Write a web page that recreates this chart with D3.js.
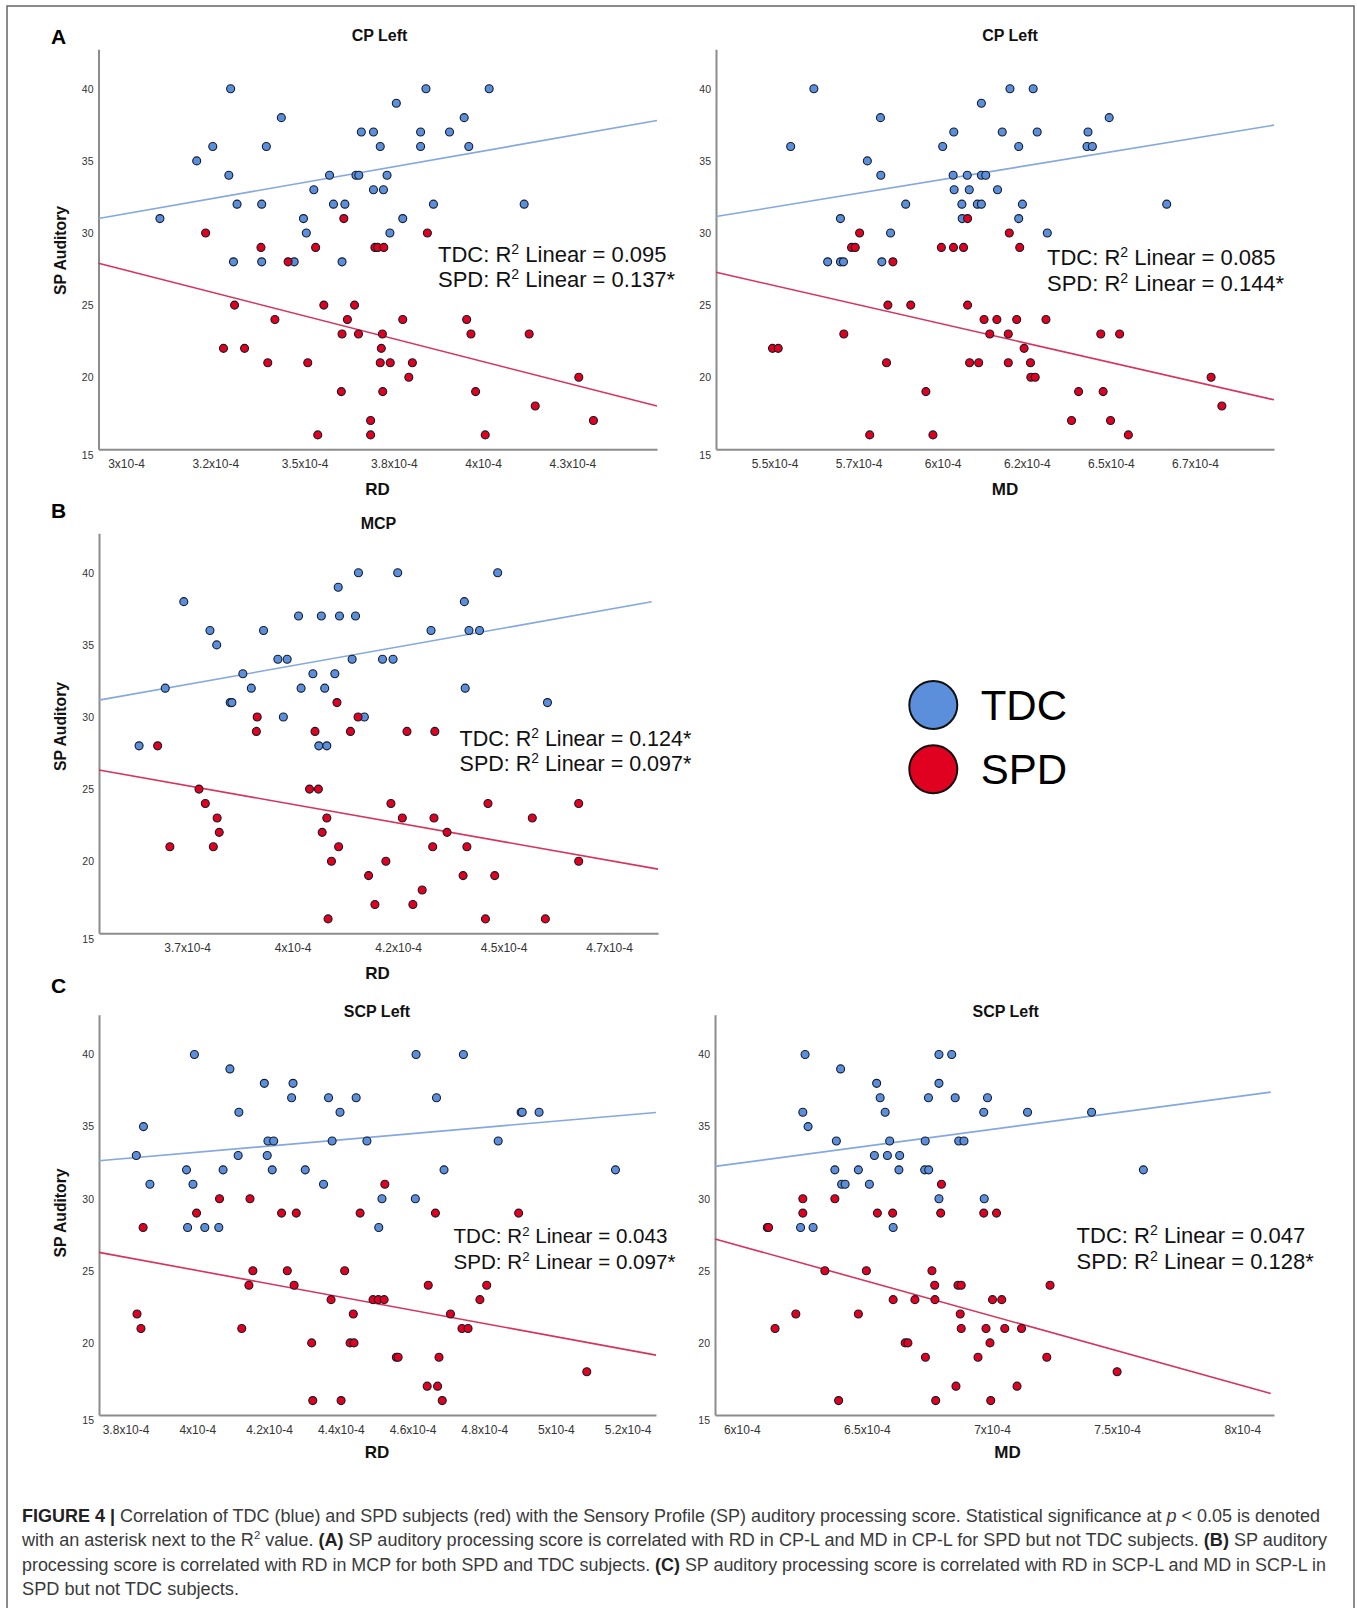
<!DOCTYPE html>
<meta charset="utf-8">
<style>
body { margin: 0; background: #fff; }
svg { display: block; font-family: "Liberation Sans", Arial, sans-serif; }
.axis path { stroke: #8c8c8c; stroke-width: 2; fill: none; }
.axis line { display: none; }
.axis text { fill: #333; }
.dot { stroke: #151c2b; stroke-width: 1.1; }
</style>
<body>
<script src="https://d3js.org/d3.v7.min.js"></script>
<script>

// ---- data (x values in units of 1e-4, y = SP Auditory score) ----

// A left : CP Left vs RD
var aLeftTDC = [[3.095,31],[3.198,35],[3.243,36],[3.288,34],[3.293,40],[3.301,28],[3.311,32],[3.380,32],[3.380,28],[3.393,36],[3.435,38],[3.471,28],[3.497,31],[3.505,30],[3.526,33],[3.570,34],[3.581,32],[3.605,28],[3.613,32],[3.644,34],[3.652,34],[3.659,37],[3.693,37],[3.693,33],[3.712,36],[3.721,33],[3.731,34],[3.739,30],[3.757,39],[3.775,31],[3.825,37],[3.825,36],[3.840,40],[3.861,32],[3.906,37],[3.947,38],[3.960,36],[4.017,40],[4.115,32]];
var aLeftSPD = [[3.223,30],[3.378,29],[3.454,28],[3.531,29],[3.610,31],[3.697,29],[3.705,29],[3.722,29],[3.844,30],[3.304,25],[3.273,22],[3.332,22],[3.397,21],[3.417,24],[3.509,21],[3.537,16],[3.554,25],[3.605,23],[3.603,19],[3.620,24],[3.640,25],[3.651,23],[3.685,17],[3.685,16],[3.712,21],[3.715,22],[3.718,23],[3.719,19],[3.740,21],[3.775,24],[3.792,20],[3.802,21],[3.954,24],[3.966,23],[3.979,19],[4.006,16],[4.129,23],[4.146,18],[4.268,20],[4.309,17]];
var aLeftTdcFit = [[2.923,31.0],[4.487,37.8]];
var aLeftSpdFit = [[2.923,27.9],[4.487,18.0]];
var aLeftTicks = [3, 3.25, 3.5, 3.75, 4, 4.25];
var aLeftTickLabels = ["3x10-4","3.2x10-4","3.5x10-4","3.8x10-4","4x10-4","4.3x10-4"];
var aLeftR2 = ["0.095", "0.137*"];

// A right : CP Left vs MD
var aRightTDC = [[5.548,36],[5.617,40],[5.658,28],[5.696,31],[5.696,28],[5.705,28],[5.776,35],[5.815,38],[5.816,34],[5.819,28],[5.845,30],[5.890,32],[6.000,36],[6.031,34],[6.033,37],[6.034,33],[6.057,32],[6.058,31],[6.073,34],[6.079,33],[6.103,32],[6.115,32],[6.115,39],[6.115,34],[6.128,34],[6.163,33],[6.177,37],[6.200,40],[6.226,36],[6.226,31],[6.237,32],[6.269,40],[6.281,37],[6.311,30],[6.429,36],[6.432,37],[6.445,36],[6.495,38],[6.666,32]];
var aRightSPD = [[5.494,22],[5.511,22],[5.706,23],[5.729,29],[5.740,29],[5.753,30],[5.783,16],[5.833,21],[5.837,25],[5.852,28],[5.905,25],[5.950,19],[5.971,16],[5.996,29],[6.032,29],[6.062,29],[6.074,31],[6.074,25],[6.080,21],[6.107,21],[6.123,24],[6.140,23],[6.161,24],[6.195,23],[6.195,21],[6.198,30],[6.220,24],[6.229,29],[6.242,22],[6.261,21],[6.262,20],[6.275,20],[6.307,24],[6.383,17],[6.404,19],[6.470,23],[6.477,19],[6.499,17],[6.526,23],[6.552,16],[6.798,20],[6.830,18]];
var aRightTdcFit = [[5.326,31.14],[6.985,37.48]];
var aRightSpdFit = [[5.326,27.28],[6.985,18.43]];
var aRightTicks = [5.5, 5.75, 6, 6.25, 6.5, 6.75];
var aRightTickLabels = ["5.5x10-4","5.7x10-4","6x10-4","6.2x10-4","6.5x10-4","6.7x10-4"];
var aRightR2 = ["0.085", "0.144*"];

// B : MCP vs RD
var bTDC = [[3.636,28],[3.698,32],[3.742,38],[3.804,36],[3.820,35],[3.852,31],[3.856,31],[3.882,33],[3.902,32],[3.931,36],[3.965,34],[3.978,30],[3.987,34],[4.014,37],[4.020,32],[4.048,33],[4.062,28],[4.068,37],[4.076,32],[4.081,28],[4.100,33],[4.108,39],[4.111,37],[4.141,34],[4.149,37],[4.156,40],[4.170,30],[4.213,34],[4.238,34],[4.249,40],[4.328,36],[4.407,38],[4.409,32],[4.418,36],[4.443,36],[4.486,40],[4.604,31]];
var bSPD = [[3.680,28],[3.709,21],[3.778,25],[3.793,24],[3.812,21],[3.821,23],[3.826,22],[3.914,29],[3.916,30],[4.040,25],[4.053,29],[4.061,25],[4.070,22],[4.081,23],[4.084,16],[4.092,20],[4.105,31],[4.109,21],[4.137,29],[4.155,30],[4.180,19],[4.195,17],[4.221,20],[4.233,24],[4.260,23],[4.271,29],[4.285,17],[4.307,18],[4.332,21],[4.335,23],[4.337,29],[4.366,22],[4.404,19],[4.413,21],[4.457,16],[4.463,24],[4.479,19],[4.568,23],[4.599,16],[4.678,24],[4.678,20]];
var bTdcFit = [[3.541,31.17],[4.851,37.99]];
var bSpdFit = [[3.541,26.32],[4.866,19.45]];
var bTicks = [3.75, 4, 4.25, 4.5, 4.75];
var bTickLabels = ["3.7x10-4","4x10-4","4.2x10-4","4.5x10-4","4.7x10-4"];
var bR2 = ["0.124*", "0.097*"];

// C left : SCP Left vs RD
var cLeftTDC = [[3.830,33],[3.850,35],[3.868,31],[3.970,32],[3.973,28],[3.988,31],[3.992,40],[4.021,28],[4.060,28],[4.072,32],[4.091,39],[4.114,33],[4.116,36],[4.187,38],[4.195,33],[4.197,34],[4.209,32],[4.213,34],[4.263,37],[4.267,38],[4.301,32],[4.352,31],[4.366,37],[4.376,34],[4.398,36],[4.443,37],[4.473,34],[4.506,28],[4.515,30],[4.608,30],[4.610,40],[4.667,37],[4.688,32],[4.742,40],[4.839,34],[4.903,36],[4.906,36],[4.953,36],[5.166,32]];
var cLeftSPD = [[3.832,22],[3.843,21],[3.849,28],[3.998,29],[4.062,30],[4.124,21],[4.144,24],[4.147,30],[4.155,25],[4.235,29],[4.251,25],[4.270,24],[4.276,29],[4.319,20],[4.322,16],[4.373,23],[4.401,16],[4.411,25],[4.426,20],[4.435,22],[4.437,20],[4.454,29],[4.490,23],[4.505,23],[4.521,23],[4.523,31],[4.555,19],[4.560,19],[4.641,17],[4.644,24],[4.664,29],[4.670,17],[4.674,19],[4.683,16],[4.706,22],[4.738,21],[4.755,21],[4.788,23],[4.807,24],[4.896,29],[5.086,18]];
var cLeftTdcFit = [[3.726,32.63],[5.279,35.98]];
var cLeftSpdFit = [[3.726,26.28],[5.279,19.15]];
var cLeftTicks = [3.8, 4.0, 4.2, 4.4, 4.6, 4.8, 5.0, 5.2];
var cLeftTickLabels = ["3.8x10-4","4x10-4","4.2x10-4","4.4x10-4","4.6x10-4","4.8x10-4","5x10-4","5.2x10-4"];
var cLeftR2 = ["0.043", "0.097*"];

// C right : SCP Left vs MD
var cRightTDC = [[6.253,40],[6.395,39],[6.244,36],[6.265,35],[6.378,34],[6.372,32],[6.399,31],[6.413,31],[6.235,28],[6.285,28],[6.466,32],[6.510,31],[6.530,33],[6.539,38],[6.553,37],[6.573,36],[6.582,33],[6.591,34],[6.605,28],[6.628,32],[6.631,33],[6.733,34],[6.731,32],[6.747,32],[6.746,37],[6.788,40],[6.788,38],[6.788,30],[6.839,40],[6.853,37],[6.867,34],[6.888,34],[6.967,36],[6.969,30],[6.982,37],[7.142,36],[7.398,36],[7.605,32]];
var cRightSPD = [[6.102,28],[6.107,28],[6.133,21],[6.216,22],[6.244,30],[6.244,29],[6.332,25],[6.372,30],[6.387,16],[6.466,22],[6.498,25],[6.542,29],[6.603,29],[6.605,23],[6.653,20],[6.664,20],[6.692,23],[6.734,19],[6.760,25],[6.771,24],[6.772,23],[6.775,16],[6.798,31],[6.795,29],[6.856,17],[6.864,24],[6.877,24],[6.873,22],[6.877,21],[6.944,19],[6.967,29],[6.976,21],[6.992,20],[6.995,16],[7.002,23],[7.018,29],[7.039,23],[7.051,21],[7.100,17],[7.118,21],[7.219,19],[7.232,24],[7.500,18]];
var cRightTdcFit = [[5.893,32.24],[8.114,37.39]];
var cRightSpdFit = [[5.893,27.21],[8.114,16.49]];
var cRightTicks = [6, 6.5, 7, 7.5, 8];
var cRightTickLabels = ["6x10-4","6.5x10-4","7x10-4","7.5x10-4","8x10-4"];
var cRightR2 = ["0.047", "0.128*"];

var yTicks = [15, 20, 25, 30, 35, 40];
var groups = ["TDC", "SPD"];

// ---- layout ----
var W = 1357, H = 1608;
var colors = { TDC: "#5b8fdb", SPD: "#e0001f" };
var fitColors = { TDC: "#84a8df", SPD: "#d6345c" };
var yTop = 42.75;

var panels = [
  { tdc: aLeftTDC, spd: aLeftSPD, tdcFit: aLeftTdcFit, spdFit: aLeftSpdFit,
    ticks: aLeftTicks, labels: aLeftTickLabels, r2: aLeftR2,
    xRange: [98.5, 657], xDomain: [2.923, 4.487], base: 449.3,
    title: "CP Left", titlePos: [379.5, 40.5], xLab: "RD", xLabPos: [377.5, 495],
    yLabPos: [65.5, 250.5], r2Pos: [438, 261.5], r2Size: 22, letter: "A", letterPos: [58.5, 44.3] },
  { tdc: aRightTDC, spd: aRightSPD, tdcFit: aRightTdcFit, spdFit: aRightSpdFit,
    ticks: aRightTicks, labels: aRightTickLabels, r2: aRightR2,
    xRange: [716, 1274], xDomain: [5.326, 6.985], base: 449.3,
    title: "CP Left", titlePos: [1010, 40.5], xLab: "MD", xLabPos: [1005, 495],
    yLabPos: null, r2Pos: [1047, 265], r2Size: 22, letter: null },
  { tdc: bTDC, spd: bSPD, tdcFit: bTdcFit, spdFit: bSpdFit,
    ticks: bTicks, labels: bTickLabels, r2: bR2,
    xRange: [99, 658], xDomain: [3.541, 4.866], base: 933.3,
    title: "MCP", titlePos: [378.5, 529.3], xLab: "RD", xLabPos: [377.5, 979],
    yLabPos: [65.5, 726.5], r2Pos: [459.6, 745.7], r2Size: 21.5, letter: "B", letterPos: [58.5, 518.3] },
  { tdc: cLeftTDC, spd: cLeftSPD, tdcFit: cLeftTdcFit, spdFit: cLeftSpdFit,
    ticks: cLeftTicks, labels: cLeftTickLabels, r2: cLeftR2,
    xRange: [99, 656], xDomain: [3.726, 5.279], base: 1415,
    title: "SCP Left", titlePos: [377, 1017.3], xLab: "RD", xLabPos: [377, 1458],
    yLabPos: [65.5, 1213], r2Pos: [453.5, 1243.3], r2Size: 20.6, letter: "C", letterPos: [58.5, 993] },
  { tdc: cRightTDC, spd: cRightSPD, tdcFit: cRightTdcFit, spdFit: cRightSpdFit,
    ticks: cRightTicks, labels: cRightTickLabels, r2: cRightR2,
    xRange: [715, 1274], xDomain: [5.893, 8.127], base: 1415,
    title: "SCP Left", titlePos: [1005.7, 1017.3], xLab: "MD", xLabPos: [1007.6, 1458],
    yLabPos: null, r2Pos: [1076.6, 1243.3], r2Size: 22, letter: null }
];

var svg = d3.select("body").append("svg")
    .attr("width", W)
    .attr("height", H);

// outer frame (open at the bottom)
svg.append("path")
    .attr("d", "M7,1700V6H1354V1700")
    .attr("fill", "none")
    .attr("stroke", "#666")
    .attr("stroke-width", 1.5);

panels.forEach(function(p) {
  var x = d3.scaleLinear().domain(p.xDomain).range(p.xRange);
  var y = d3.scaleLinear().domain([15, yTop]).range([p.base, p.base - (yTop - 15) * 14.42]);

  var g = svg.append("g");

  // x axis
  var labelOf = {};
  p.ticks.forEach(function(t, i) { labelOf[t] = p.labels[i]; });
  g.append("g")
      .attr("class", "axis")
      .attr("transform", "translate(0," + p.base + ")")
      .call(d3.axisBottom(x).tickValues(p.ticks).tickSize(0).tickPadding(10)
              .tickFormat(function(d) { return labelOf[d]; }))
      .call(function(a) { a.selectAll("text").attr("font-size", 12).attr("font-family", "Liberation Sans, Arial, sans-serif"); });

  // y axis
  g.append("g")
      .attr("class", "axis")
      .attr("transform", "translate(" + p.xRange[0] + ",0)")
      .call(d3.axisLeft(y).tickValues(yTicks).tickSize(0).tickPadding(5))
      .call(function(a) {
        a.selectAll("text").attr("font-size", 10.5).attr("font-family", "Liberation Sans, Arial, sans-serif");
        a.selectAll(".tick").filter(function(d) { return d === 15; })
          .select("text").attr("dy", "0.85em");
      });

  // fit lines
  var line = d3.line().x(function(d) { return x(d[0]); }).y(function(d) { return y(d[1]); });
  g.append("path").attr("d", line(p.tdcFit)).attr("fill", "none")
      .attr("stroke", fitColors.TDC).attr("stroke-width", 1.6);
  g.append("path").attr("d", line(p.spdFit)).attr("fill", "none")
      .attr("stroke", fitColors.SPD).attr("stroke-width", 1.6);

  // points
  [["TDC", p.tdc], ["SPD", p.spd]].forEach(function(s) {
    g.selectAll(".dot-" + s[0])
      .data(s[1])
      .enter().append("circle")
        .attr("class", "dot")
        .attr("cx", function(d) { return x(d[0]); })
        .attr("cy", function(d) { return y(d[1]); })
        .attr("r", 4)
        .attr("fill", colors[s[0]]);
  });

  // titles and labels
  g.append("text").attr("x", p.titlePos[0]).attr("y", p.titlePos[1])
      .attr("text-anchor", "middle").attr("font-size", 16).attr("font-weight", "bold")
      .attr("fill", "#111").text(p.title);
  g.append("text").attr("x", p.xLabPos[0]).attr("y", p.xLabPos[1])
      .attr("text-anchor", "middle").attr("font-size", 17).attr("font-weight", "bold")
      .attr("fill", "#111").text(p.xLab);
  if (p.yLabPos) {
    g.append("text")
        .attr("transform", "translate(" + p.yLabPos[0] + "," + p.yLabPos[1] + ") rotate(-90)")
        .attr("text-anchor", "middle").attr("font-size", 15.7).attr("font-weight", "bold")
        .attr("fill", "#111").text("SP Auditory");
  }
  if (p.letter) {
    g.append("text").attr("x", p.letterPos[0]).attr("y", p.letterPos[1])
        .attr("text-anchor", "middle").attr("font-size", 21).attr("font-weight", "bold")
        .attr("fill", "#000").text(p.letter);
  }

  // R squared annotations
  groups.forEach(function(grp, i) {
    var fs = p.r2Size;
    var t = g.append("text")
        .attr("x", p.r2Pos[0]).attr("y", p.r2Pos[1] + i * 25.5)
        .attr("font-size", fs).attr("fill", "#111");
    t.append("tspan").text(grp + ": R");
    t.append("tspan").attr("font-size", fs * 0.64).attr("dy", -fs * 0.36).text("2");
    t.append("tspan").attr("dy", fs * 0.36).text(" Linear = " + p.r2[i]);
  });
});

// legend
var legend = svg.append("g");
groups.forEach(function(grp, i) {
  var cy = 705 + i * 64.3;
  legend.append("circle").attr("cx", 933.3).attr("cy", cy).attr("r", 24)
      .attr("fill", colors[grp]).attr("stroke", "#111").attr("stroke-width", 2);
  legend.append("text").attr("x", 980.7).attr("y", cy + 15)
      .attr("font-size", 42).attr("fill", "#000").text(grp);
});

// caption
var captionLines = [
  [["b", "FIGURE 4 |"], ["n", " Correlation of TDC (blue) and SPD subjects (red) with the Sensory Profile (SP) auditory processing score. Statistical significance at "], ["i", "p"], ["n", " < 0.05 is denoted"]],
  [["n", "with an asterisk next to the R"], ["s", "2"], ["n", " value. "], ["b", "(A)"], ["n", " SP auditory processing score is correlated with RD in CP-L and MD in CP-L for SPD but not TDC subjects. "], ["b", "(B)"], ["n", " SP auditory"]],
  [["n", "processing score is correlated with RD in MCP for both SPD and TDC subjects. "], ["b", "(C)"], ["n", " SP auditory processing score is correlated with RD in SCP-L and MD in SCP-L in"]],
  [["n", "SPD but not TDC subjects."]]
];
var captionWidths = [1298, 1305, 1304, 217];
var caption = svg.append("g").attr("fill", "#3a3a3a");
captionLines.forEach(function(parts, i) {
  var t = caption.append("text")
      .attr("x", 22).attr("y", 1521.5 + i * 24.6)
      .attr("font-size", 17.5)
      .attr("textLength", captionWidths[i])
      .attr("lengthAdjust", "spacingAndGlyphs");
  parts.forEach(function(part, k) {
    var s = t.append("tspan").text(part[1]);
    if (part[0] === "b") s.attr("font-weight", "bold").attr("fill", "#222");
    if (part[0] === "i") s.attr("font-style", "italic");
    if (part[0] === "s") s.attr("font-size", 11).attr("dy", -7);
    if (k > 0 && parts[k - 1][0] === "s") s.attr("dy", 7);
  });
});

</script>
</body>
